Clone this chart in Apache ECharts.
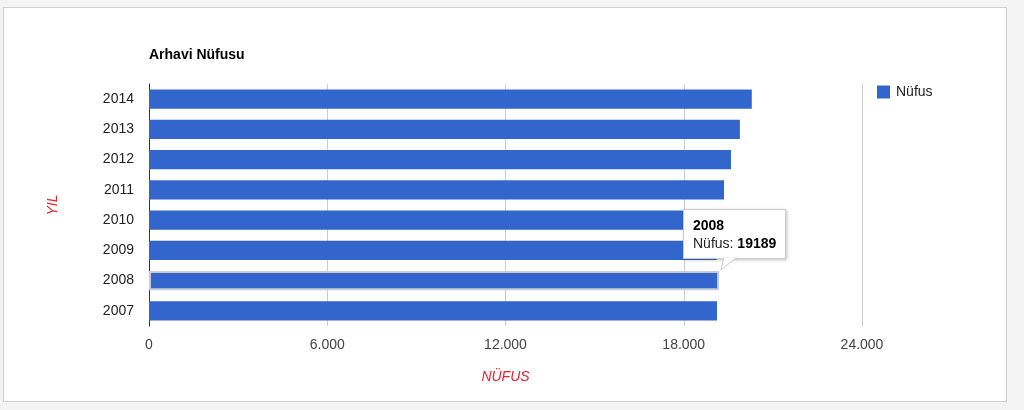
<!DOCTYPE html>
<html>
<head>
<meta charset="utf-8">
<script src="https://cdn.jsdelivr.net/npm/echarts@6/dist/echarts.min.js"></script>
<style>
html,body{margin:0;padding:0;background:#f4f4f4;width:1024px;height:410px;overflow:hidden;}
#frame{position:absolute;left:3px;top:7px;width:1004px;height:395px;background:#fff;border:1px solid #cfcfcf;box-sizing:border-box;}
#chart{position:absolute;left:0;top:0;width:1024px;height:410px;}
</style>
</head>
<body>
<div id="frame"></div>
<div id="chart"></div>
<script>
const title = 'Arhavi Nüfusu';
const seriesName = 'Nüfus';
const years = ['2007','2008','2009','2010','2011','2012','2013','2014'];
const population = [19120, 19189, 19110, 19150, 19355, 19590, 19890, 20290];
const xTicks = [0, 6000, 12000, 18000, 24000];
const xAxisTitle = 'NÜFUS';
const yAxisTitle = 'YIL';
const hoverIndex = 1;

const chart = echarts.init(document.getElementById('chart'), null, {renderer:'canvas'});
const font = 'Liberation Sans, Arial, sans-serif';
const fmt = v => String(v).replace(/\B(?=(\d{3})+(?!\d))/g, '.');

chart.setOption({
  animation: false,
  backgroundColor: 'transparent',
  textStyle: {fontFamily: font},
  title: {
    text: title, left: 144, top: 43,
    textStyle: {fontSize: 14, fontWeight: 'bold', color: '#000', fontFamily: font}
  },
  legend: {
    data: [seriesName], left: 872, top: 80, orient: 'vertical',
    itemWidth: 13, itemHeight: 13, itemGap: 4,
    icon: 'rect',
    textStyle: {fontSize: 14, color: '#222', fontFamily: font, padding: [0,0,0,1]}
  },
  grid: {left: 149, right: 162, top: 84, bottom: 84},
  tooltip: {
    trigger: 'item',
    alwaysShowContent: true,
    backgroundColor: '#fff',
    borderColor: '#ccc',
    borderWidth: 1,
    borderRadius: 0,
    padding: [6, 9, 6, 9],
    extraCssText: 'box-shadow:1px 1px 3px rgba(0,0,0,0.25);overflow:visible;',
    textStyle: {fontFamily: font, fontSize: 14, color: '#000'},
    position: function (point, params, dom, rect) {
      return [rect.x + rect.width - 36, rect.y - 62];
    },
    formatter: function (p) {
      return '<div style="line-height:18px;position:relative"><b>' + p.name + '</b><br>' +
        '<span style="color:#222">' + p.seriesName + ': </span><b>' + p.value + '</b>' +
        '<svg width="20" height="14" style="position:absolute;left:31px;top:41px;overflow:visible">' +
        '<polygon points="0,0 13,0 -3,13" fill="#fff" stroke="#ccc" stroke-width="1"/>' +
        '<rect x="-1" y="-2" width="16" height="2.5" fill="#fff"/></svg></div>';
    }
  },
  xAxis: {
    type: 'value', min: 0, max: 24000, interval: 6000,
    name: xAxisTitle, nameLocation: 'middle', nameGap: 44,
    nameTextStyle: {color: '#e8232a', fontStyle: 'italic', fontSize: 14, fontFamily: font},
    axisLine: {show: false},
    axisTick: {show: false},
    axisLabel: {color: '#444', fontSize: 14, margin: 12, fontFamily: font,
      formatter: v => xTicks.indexOf(v) >= 0 ? fmt(v) : ''},
    splitLine: {show: true, lineStyle: {color: '#cccccc', width: 1}}
  },
  yAxis: {
    type: 'category', data: years,
    name: yAxisTitle, nameLocation: 'middle', nameGap: 89, nameRotate: 90,
    nameTextStyle: {color: '#e8232a', fontStyle: 'italic', fontSize: 14, fontFamily: font},
    axisLine: {show: true, lineStyle: {color: '#333', width: 1}},
    axisTick: {show: false},
    axisLabel: {color: '#222', fontSize: 14, margin: 15, fontFamily: font},
    splitLine: {show: false}
  },
  series: [{
    name: seriesName, type: 'bar',
    barCategoryGap: '37%',
    itemStyle: {color: '#3366cc'},
    emphasis: {disabled: true},
    data: population.map((v, i) => i === hoverIndex ? {
      value: v,
      itemStyle: {color: '#3366cc', borderColor: '#c8cbd6', borderWidth: 2}
    } : v)
  }]
});

chart.dispatchAction({type: 'showTip', seriesIndex: 0, dataIndex: hoverIndex});
</script>
</body>
</html>
